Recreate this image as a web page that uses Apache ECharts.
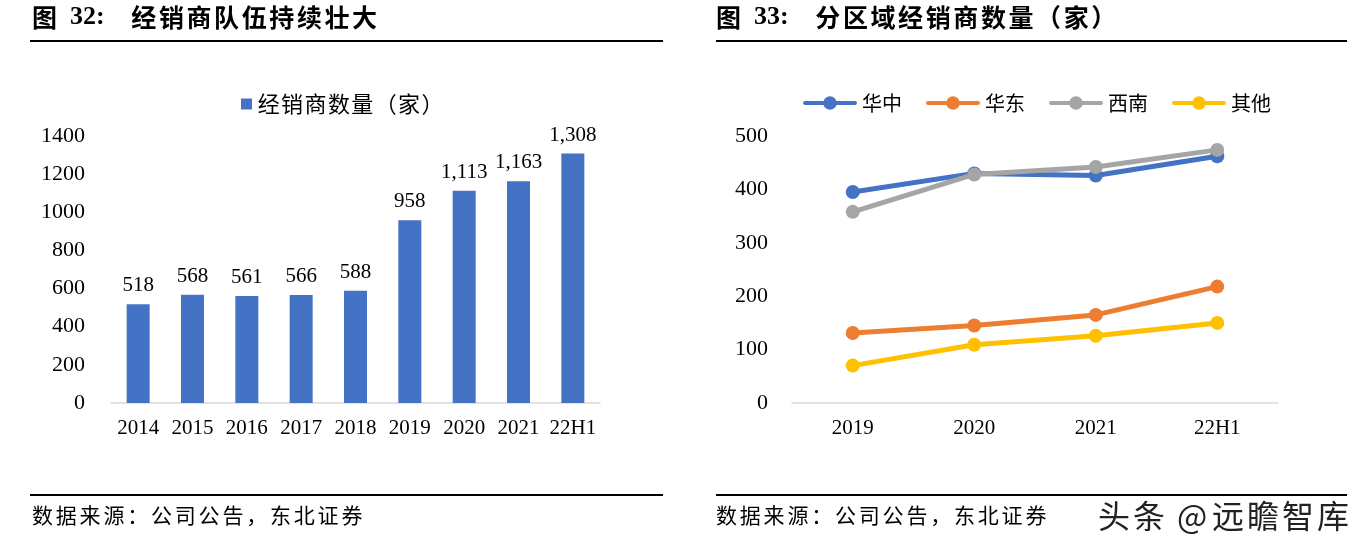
<!DOCTYPE html>
<html>
<head>
<meta charset="utf-8">
<script src="https://cdn.jsdelivr.net/npm/echarts@6/dist/echarts.min.js"></script>
<style>
html,body{margin:0;padding:0;background:#fff;}
#c{width:1365px;height:547px;}
</style>
</head>
<body>
<div id="c"></div>
<script>
// Left chart data
var barCategories = ['2014','2015','2016','2017','2018','2019','2020','2021','22H1'];
var dealerCount = [518, 568, 561, 566, 588, 958, 1113, 1163, 1308];
var leftTicks = [0,200,400,600,800,1000,1200,1400];

// Right chart data
var lineCategories = ['2019','2020','2021','22H1'];
var huazhong = [395, 430, 426, 462];
var huadong  = [131, 145, 165, 218];
var xinan    = [358, 428, 442, 474];
var qita     = [70, 109, 126, 150];
var rightTicks = [0,100,200,300,400,500];

var serif = "'Liberation Serif','Times New Roman',serif";
var cjk = "'Noto Sans CJK SC',sans-serif";
var chart = echarts.init(document.getElementById('c'));

function rule(x1, x2, y){
  return {type:'line', shape:{x1:x1,y1:y,x2:x2,y2:y}, style:{stroke:'#000', lineWidth:2}};
}
// text with fixed pitch per CJK character
function spaced(str){
  return str.split('').map(function(ch){ return '{c|'+ch+'}'; }).join('');
}
function title(x, num, txt){
  return {type:'text', left:x, top:4, style:{
    text:'{a|图}{b|  '+num+':}' + spaced(txt),
    rich:{
      a:{font:'bold 25px '+cjk, fill:'#000'},
      b:{font:'bold 26px '+serif, fill:'#000', width:73},
      c:{font:'bold 25px '+cjk, fill:'#000', width:27.6, align:'center'}
    }
  }};
}
function source(x){
  return {type:'text', left:x, top:505, style:{
    text: spaced('数据来源：公司公告，东北证券'),
    rich:{c:{font:'21px '+cjk, fill:'#000', width:23.8, align:'center'}}
  }};
}
// legend icon: thick rounded line with a dot in the middle
var lineIcon = 'path://M3,5 L51,5 A2,2 0 0 1 51,9 L3,9 A2,2 0 0 1 3,5 Z M27,0.5 A6.5,6.5 0 1 1 26.99,0.5 Z';

chart.setOption({
  animation:false,
  backgroundColor:'#fff',
  graphic:[
    title(32, '32', '经销商队伍持续壮大'),
    title(716, '33', '分区域经销商数量（家）'),
    rule(30, 663, 41), rule(716, 1347, 41),
    rule(30, 663, 495), rule(716, 1347, 495),
    source(32), source(716),
    {type:'text', left:1097, top:499, z:100, style:{
      text:'{c|头}{c|条}{s| @}{c|远}{c|瞻}{c|智}{c|库}',
      rich:{c:{font:'32px '+cjk, fill:'#222', width:35, align:'center'}, s:{font:'32px '+cjk, fill:'#222', width:44}},
      stroke:'#fff', lineWidth:2}}
  ],
  legend:[
    {data:['经销商数量（家）'], left:236, top:88, itemWidth:11, itemHeight:11, icon:'rect', itemGap:6,
     formatter:function(n){ return spaced(n); },
     textStyle:{fontFamily:cjk, fontSize:21, color:'#000',
       rich:{c:{fontFamily:cjk, fontSize:22, color:'#000', width:23.4, align:'center'}}}},
    {data:['华中','华东','西南','其他'], left:798, top:88, itemWidth:54, itemHeight:14, itemGap:24, icon:lineIcon,
     textStyle:{fontFamily:cjk, fontSize:20, color:'#000'}}
  ],
  grid:[
    {left:111, right:765, top:136, bottom:144},
    {left:792, right:87, top:136, bottom:144}
  ],
  xAxis:[
    {gridIndex:0, type:'category', data:barCategories,
     axisLine:{lineStyle:{color:'#d9d9d9', width:1.5}}, axisTick:{show:false},
     axisLabel:{color:'#000', fontFamily:serif, fontSize:21, margin:15, interval:0}},
    {gridIndex:1, type:'category', data:lineCategories,
     axisLine:{lineStyle:{color:'#d9d9d9', width:1.5}}, axisTick:{show:false},
     axisLabel:{color:'#000', fontFamily:serif, fontSize:21, margin:15, interval:0}}
  ],
  yAxis:[
    {gridIndex:0, type:'value', min:leftTicks[0], max:leftTicks[leftTicks.length-1], interval:200,
     axisLine:{show:false}, axisTick:{show:false}, splitLine:{show:false},
     axisLabel:{color:'#000', fontFamily:serif, fontSize:22, margin:26, formatter:function(v){return String(v);}}},
    {gridIndex:1, type:'value', min:rightTicks[0], max:rightTicks[rightTicks.length-1], interval:100,
     axisLine:{show:false}, axisTick:{show:false}, splitLine:{show:false},
     axisLabel:{color:'#000', fontFamily:serif, fontSize:22, margin:24, formatter:function(v){return String(v);}}}
  ],
  series:[
    {name:'经销商数量（家）', type:'bar', xAxisIndex:0, yAxisIndex:0, data:dealerCount,
     barWidth:23, itemStyle:{color:'#4472C4'},
     label:{show:true, position:'top', distance:8, color:'#000', fontFamily:serif, fontSize:21,
       formatter:function(p){return p.value.toLocaleString('en-US');}}},
    {name:'华中', type:'line', xAxisIndex:1, yAxisIndex:1, data:huazhong, symbol:'circle', symbolSize:14,
     lineStyle:{width:5, color:'#4472C4'}, itemStyle:{color:'#4472C4'}},
    {name:'华东', type:'line', xAxisIndex:1, yAxisIndex:1, data:huadong, symbol:'circle', symbolSize:14,
     lineStyle:{width:5, color:'#ED7D31'}, itemStyle:{color:'#ED7D31'}},
    {name:'西南', type:'line', xAxisIndex:1, yAxisIndex:1, data:xinan, symbol:'circle', symbolSize:14,
     lineStyle:{width:5, color:'#A5A5A5'}, itemStyle:{color:'#A5A5A5'}},
    {name:'其他', type:'line', xAxisIndex:1, yAxisIndex:1, data:qita, symbol:'circle', symbolSize:14,
     lineStyle:{width:5, color:'#FFC000'}, itemStyle:{color:'#FFC000'}}
  ]
});
</script>
</body>
</html>
